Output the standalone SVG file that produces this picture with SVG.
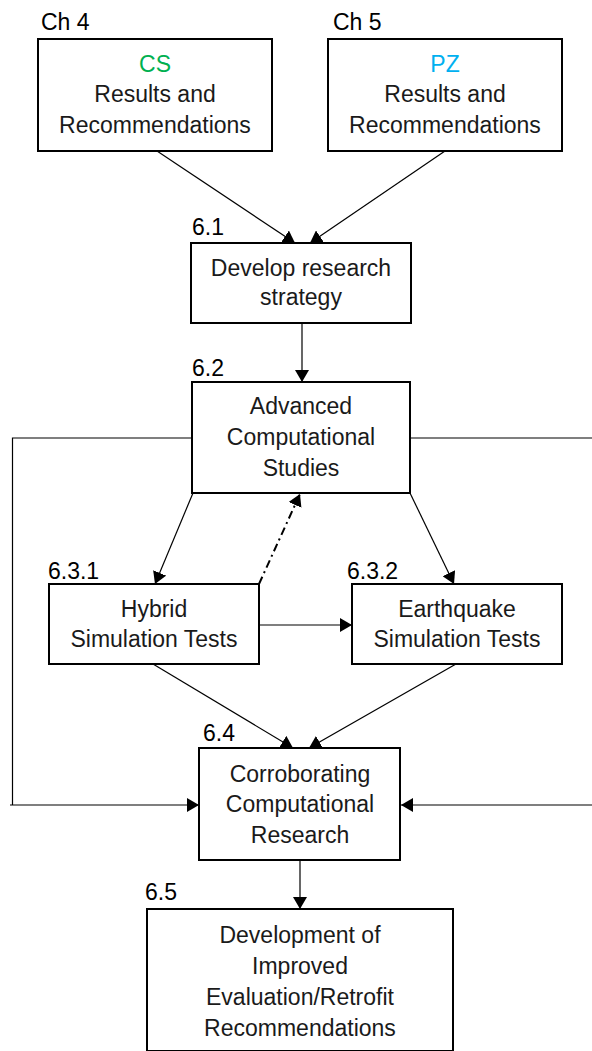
<svg xmlns="http://www.w3.org/2000/svg" width="592" height="1051" viewBox="0 0 592 1051">
<style>
  .box { fill: #ffffff; stroke: #000000; stroke-width: 2; }
  .t { font-family: "Liberation Sans", Arial, sans-serif; font-size: 23px; fill: #1a1a1a; text-anchor: middle; }
  .lbl { font-family: "Liberation Sans", Arial, sans-serif; font-size: 23px; fill: #000000; }
  .c { fill: none; stroke: #000000; stroke-width: 1.2; }
  .dd { fill: none; stroke: #000000; stroke-width: 2; stroke-dasharray: 8 4 2 4; }
</style>
<defs>
  <marker id="ah" viewBox="0 0 12 14" refX="12" refY="7" markerWidth="12" markerHeight="14" markerUnits="userSpaceOnUse" orient="auto">
    <path d="M0,0 L12,7 L0,14 Z" fill="#000000"/>
  </marker>
</defs>
<rect width="592" height="1051" fill="#ffffff"/>

<g id="connectors">
  <line class="c" x1="157" y1="151" x2="295" y2="243" marker-end="url(#ah)"/>
  <line class="c" x1="445" y1="151" x2="310" y2="243" marker-end="url(#ah)"/>
  <line class="c" x1="302" y1="323" x2="302" y2="382" marker-end="url(#ah)"/>
  <line class="c" x1="193" y1="493" x2="155" y2="584" marker-end="url(#ah)"/>
  <line class="c" x1="410" y1="493" x2="454" y2="584" marker-end="url(#ah)"/>
  <line class="dd" x1="259" y1="584" x2="300" y2="494" marker-end="url(#ah)"/>
  <line class="c" x1="259" y1="625" x2="352" y2="625" marker-end="url(#ah)"/>
  <line class="c" x1="153" y1="664" x2="293" y2="748" marker-end="url(#ah)"/>
  <line class="c" x1="456" y1="664" x2="309" y2="748" marker-end="url(#ah)"/>
  <polyline class="c" points="192,438 12.5,438 12.5,805"/>
  <line class="c" x1="10" y1="805" x2="199" y2="805" marker-end="url(#ah)"/>
  <line class="c" x1="410" y1="438" x2="592" y2="438"/>
  <line class="c" x1="592" y1="805" x2="401" y2="805" marker-end="url(#ah)"/>
  <line class="c" x1="300" y1="860" x2="300" y2="909" marker-end="url(#ah)"/>
</g>

<g id="node-cs">
  <text class="lbl" x="41" y="30">Ch 4</text>
  <rect class="box" x="38" y="39" width="234" height="112"/>
  <text class="t" x="155" y="72" style="fill:#00B050">CS</text>
  <text class="t" x="155" y="102">Results and</text>
  <text class="t" x="155" y="133">Recommendations</text>
</g>

<g id="node-pz">
  <text class="lbl" x="333" y="30">Ch 5</text>
  <rect class="box" x="328" y="39" width="234" height="112"/>
  <text class="t" x="445" y="72" style="fill:#00B0F0">PZ</text>
  <text class="t" x="445" y="102">Results and</text>
  <text class="t" x="445" y="133">Recommendations</text>
</g>

<g id="node-6-1">
  <text class="lbl" x="192" y="235">6.1</text>
  <rect class="box" x="191" y="243" width="220" height="80"/>
  <text class="t" x="301" y="276">Develop research</text>
  <text class="t" x="301" y="305">strategy</text>
</g>

<g id="node-6-2">
  <text class="lbl" x="192" y="376">6.2</text>
  <rect class="box" x="192" y="382" width="218" height="111"/>
  <text class="t" x="301" y="414">Advanced</text>
  <text class="t" x="301" y="445">Computational</text>
  <text class="t" x="301" y="476">Studies</text>
</g>

<g id="node-6-3-1">
  <text class="lbl" x="48" y="579">6.3.1</text>
  <rect class="box" x="49" y="584" width="210" height="80"/>
  <text class="t" x="154" y="617">Hybrid</text>
  <text class="t" x="154" y="647">Simulation Tests</text>
</g>

<g id="node-6-3-2">
  <text class="lbl" x="347" y="579">6.3.2</text>
  <rect class="box" x="352" y="584" width="210" height="80"/>
  <text class="t" x="457" y="617">Earthquake</text>
  <text class="t" x="457" y="647">Simulation Tests</text>
</g>

<g id="node-6-4">
  <text class="lbl" x="203" y="741">6.4</text>
  <rect class="box" x="199" y="748" width="201" height="112"/>
  <text class="t" x="300" y="782">Corroborating</text>
  <text class="t" x="300" y="812">Computational</text>
  <text class="t" x="300" y="843">Research</text>
</g>

<g id="node-6-5">
  <text class="lbl" x="145" y="900">6.5</text>
  <rect class="box" x="147" y="909" width="306" height="142"/>
  <text class="t" x="300" y="943">Development of</text>
  <text class="t" x="300" y="974">Improved</text>
  <text class="t" x="300" y="1005">Evaluation/Retrofit</text>
  <text class="t" x="300" y="1036">Recommendations</text>
</g>
</svg>
